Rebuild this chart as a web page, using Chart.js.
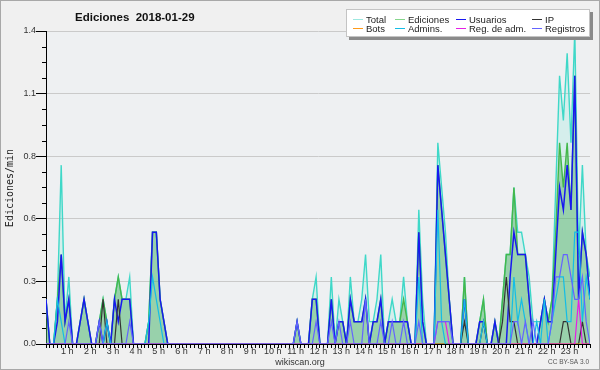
<!DOCTYPE html>
<html>
<head>
<meta charset="utf-8">
<script src="https://cdn.jsdelivr.net/npm/chart.js@4.4.1/dist/chart.umd.min.js"></script>
<style>
  html, body { margin: 0; padding: 0; background: #f0f0f0; overflow: hidden; }
  canvas { display: block; }
</style>
</head>
<body>
<canvas id="chart" width="600" height="370"></canvas>
<script>
// edits per minute, one value per 10-minute bin (00:00 ... 23:50), 4 hours per row
const total = [
  0.2,0,0,0.2,0.8,0.1,0.3,0,0,0.1,0.2,0.1,0,0,0.1,0.2,0.1,0,0.2,0.3,0.2,0.2,0.3,0,
  0,0,0,0.1,0.5,0.5,0.2,0.1,0,0,0,0,0,0,0,0,0,0,0,0,0,0,0,0,
  0,0,0,0,0,0,0,0,0,0,0,0,0,0,0,0,0,0,0.1,0,0,0,0.2,0.3,
  0,0,0,0.3,0,0.2,0.1,0,0.3,0.1,0.1,0.2,0.4,0.1,0.1,0.2,0.4,0,0.1,0.2,0.1,0.1,0.3,0.1,
  0,0,0.6,0.2,0,0,0,0.9,0.7,0.5,0.2,0,0,0,0.3,0,0,0,0.1,0.2,0,0,0.1,0,
  0.2,0.4,0.4,0.7,0.5,0.5,0.4,0.3,0.1,0.1,0.1,0.2,0.1,0.2,0.7,1.2,1.0,1.3,0.9,1.4,0.4,0.8,0.4,0.3
];
const ediciones = [
  0.2,0,0,0.2,0.4,0.1,0.2,0,0,0.1,0.2,0.1,0,0,0.1,0.2,0.1,0,0.2,0.3,0.2,0.2,0.2,0,
  0,0,0,0.1,0.5,0.5,0.2,0.1,0,0,0,0,0,0,0,0,0,0,0,0,0,0,0,0,
  0,0,0,0,0,0,0,0,0,0,0,0,0,0,0,0,0,0,0.1,0,0,0,0.2,0.2,
  0,0,0,0.2,0,0.1,0.1,0,0.2,0.1,0.1,0.1,0.2,0,0.1,0.1,0.2,0,0.1,0.1,0.1,0.1,0.2,0.1,
  0,0,0.5,0.1,0,0,0,0.8,0.6,0.4,0.2,0,0,0,0.3,0,0,0,0.1,0.2,0,0,0.1,0,
  0.2,0.4,0.4,0.7,0.4,0.4,0.4,0.2,0,0,0.1,0.2,0.1,0.2,0.5,0.9,0.7,0.9,0.6,1.2,0.2,0.5,0.4,0.2
];
const usuarios = [
  0.2,0,0,0.1,0.4,0.1,0.2,0,0,0.1,0.2,0.1,0,0,0.1,0,0.1,0,0.2,0.1,0.2,0.2,0.2,0,
  0,0,0,0,0.5,0.5,0.2,0.1,0,0,0,0,0,0,0,0,0,0,0,0,0,0,0,0,
  0,0,0,0,0,0,0,0,0,0,0,0,0,0,0,0,0,0,0.1,0,0,0,0.2,0.2,
  0,0,0,0.2,0,0.1,0.1,0,0.2,0.1,0.1,0.1,0.2,0,0.1,0.1,0.2,0,0.1,0.1,0.1,0.1,0.1,0.1,
  0,0,0.5,0.1,0,0,0,0.8,0.6,0.4,0.2,0,0,0,0.2,0,0,0,0.1,0.1,0,0,0.1,0,
  0,0,0.3,0.5,0.4,0.4,0.4,0.2,0,0,0.1,0.2,0.1,0.1,0.4,0.7,0.6,0.8,0.6,1.2,0.2,0.5,0.4,0.2
];
const ip = [
  0,0,0,0,0,0,0,0,0,0,0,0,0,0,0,0.2,0,0,0,0.2,0,0,0,0,
  0,0,0,0,0,0,0,0,0,0,0,0,0,0,0,0,0,0,0,0,0,0,0,0,
  0,0,0,0,0,0,0,0,0,0,0,0,0,0,0,0,0,0,0,0,0,0,0,0,
  0,0,0,0,0,0,0,0,0,0,0,0,0,0,0,0,0,0,0,0,0,0,0,0,
  0,0,0,0,0,0,0,0,0,0,0,0,0,0,0.1,0,0,0,0,0.1,0,0,0,0,
  0.1,0.3,0.1,0.1,0,0,0,0,0,0,0,0,0,0,0,0,0.1,0.1,0,0,0,0.1,0,0
];
const bots = [
  0,0,0,0,0,0,0,0,0,0,0,0,0,0,0,0,0,0,0,0,0,0,0,0,
  0,0,0,0,0,0,0,0,0,0,0,0,0,0,0,0,0,0,0,0,0,0,0,0,
  0,0,0,0,0,0,0,0,0,0,0,0,0,0,0,0,0,0,0,0,0,0,0,0,
  0,0,0,0,0,0,0,0,0,0,0,0,0,0,0,0,0,0,0,0,0,0,0,0,
  0,0,0,0,0,0,0,0,0,0,0,0,0,0,0,0,0,0,0,0,0,0,0,0,
  0,0,0,0,0,0,0,0,0,0,0,0,0,0,0,0,0,0,0,0,0,0,0,0
];
const admins = [
  0,0,0,0.2,0.1,0,0,0,0,0,0,0,0,0,0,0,0.1,0,0,0,0,0,0,0,
  0,0,0,0.1,0.3,0.2,0.1,0,0,0,0,0,0,0,0,0,0,0,0,0,0,0,0,0,
  0,0,0,0,0,0,0,0,0,0,0,0,0,0,0,0,0,0,0,0,0,0,0,0,
  0,0,0,0,0,0,0,0,0,0,0,0,0,0,0,0,0,0,0,0,0,0,0,0,
  0,0,0.3,0,0,0,0,0.6,0.1,0,0,0,0,0,0.2,0,0,0,0,0.1,0,0,0,0,
  0,0,0,0.3,0.1,0.2,0.1,0,0,0.1,0,0.2,0,0.1,0.2,0.3,0.3,0.1,0.1,0.5,0.5,0.1,0.3,0.2
];
const regAdm = [
  0,0,0,0,0,0,0,0,0,0,0,0,0,0,0,0,0,0,0,0,0,0,0,0,
  0,0,0,0,0,0,0,0,0,0,0,0,0,0,0,0,0,0,0,0,0,0,0,0,
  0,0,0,0,0,0,0,0,0,0,0,0,0,0,0,0,0,0,0,0,0,0,0,0,
  0,0,0,0,0,0,0,0,0,0,0,0,0,0,0,0,0,0,0,0,0,0,0,0,
  0,0,0,0,0,0,0,0.1,0.1,0.1,0,0,0,0,0,0,0,0,0,0,0,0,0,0,
  0,0,0,0,0,0,0,0,0,0,0,0,0,0,0,0,0,0,0,0,0.2,0,0,0
];
const registros = [
  0,0,0,0,0,0,0.1,0,0,0,0,0,0,0,0.1,0,0,0,0,0,0,0,0.1,0,
  0,0,0,0,0,0,0,0,0,0,0,0,0,0,0,0,0,0,0,0,0,0,0,0,
  0,0,0,0,0,0,0,0,0,0,0,0,0,0,0,0,0,0,0.1,0,0,0,0,0.1,
  0,0,0,0.1,0,0.1,0,0,0.1,0,0,0,0.2,0,0,0,0.1,0,0,0.1,0,0,0.1,0,
  0,0,0.1,0,0,0,0,0.1,0.1,0.1,0.1,0,0,0,0,0,0,0,0,0,0,0,0,0,
  0,0,0,0.1,0.1,0,0.1,0,0.1,0,0,0,0,0.1,0.3,0.3,0.4,0.4,0.3,0.2,0.2,0.3,0.1,0
];

const hourLabels = ['1 h','2 h','3 h','4 h','5 h','6 h','7 h','8 h','9 h','10 h','11 h','12 h',
  '13 h','14 h','15 h','16 h','17 h','18 h','19 h','20 h','21 h','22 h','23 h'];
const yTickLabels = ['0.0','0.3','0.6','0.8','1.1','1.4'];

const SANS = '"Liberation Sans", Arial, sans-serif';
Chart.defaults.font.family = SANS;

const pts = arr => arr.map((v, i) => ({ x: i, y: v }));

const decor = {
  id: 'decor',
  beforeDraw(chart) {
    const { ctx, chartArea: a } = chart;
    ctx.save();
    ctx.fillStyle = '#f0f0f0';
    ctx.fillRect(0, 0, 600, 370);
    ctx.fillStyle = '#eef0f2';
    ctx.fillRect(a.left, a.top, a.right - a.left, a.bottom - a.top);
    ctx.restore();
  },
  afterDraw(chart) {
    const { ctx } = chart;
    const ys = chart.scales.y;
    ctx.save();

    // minor ticks on the y axis
    ctx.strokeStyle = '#000';
    ctx.lineWidth = 1;
    ctx.beginPath();
    for (let k = 1; k < 20; k++) {
      if (k % 4 === 0) continue;
      const y = Math.round(ys.getPixelForValue(k * 0.07)) + 0.5;
      ctx.moveTo(42, y);
      ctx.lineTo(46, y);
    }
    ctx.stroke();

    // frame
    ctx.strokeStyle = '#a8a8a8';
    ctx.strokeRect(0.5, 0.5, 599, 369);

    // title
    ctx.fillStyle = '#111';
    ctx.font = 'bold 11.5px ' + SANS;
    ctx.textBaseline = 'alphabetic';
    ctx.textAlign = 'left';
    ctx.fillText('Ediciones  2018-01-29', 75, 21);

    // y axis title
    ctx.save();
    ctx.translate(10, 188);
    ctx.rotate(-Math.PI / 2);
    ctx.font = '10px "DejaVu Sans Mono", monospace';
    ctx.textAlign = 'center';
    ctx.textBaseline = 'middle';
    ctx.fillStyle = '#222';
    ctx.fillText('Ediciones/min', 0, 0);
    ctx.restore();

    // footer
    ctx.fillStyle = '#333';
    ctx.font = '9px ' + SANS;
    ctx.textAlign = 'center';
    ctx.fillText('wikiscan.org', 300, 364.5);
    ctx.fillStyle = '#555';
    ctx.font = '6.5px ' + SANS;
    ctx.textAlign = 'right';
    ctx.fillText('CC BY-SA 3.0', 589, 364);

    // legend box
    ctx.fillStyle = '#8a8a8a';
    ctx.fillRect(349, 12, 244, 28);
    ctx.fillStyle = '#fff';
    ctx.fillRect(346, 9, 244, 28);
    ctx.strokeStyle = '#c4c4c4';
    ctx.strokeRect(346.5, 9.5, 243, 27);

    const colX = [366, 408, 469, 545];
    const rowY = [23, 32];
    ctx.font = '9.5px ' + SANS;
    ctx.textAlign = 'left';
    chart.data.datasets.forEach((ds, i) => {
      const col = i % 4, row = Math.floor(i / 4);
      const x = colX[col], y = rowY[row];
      ctx.strokeStyle = ds.legendColor || ds.borderColor;
      ctx.lineWidth = 1;
      ctx.beginPath();
      ctx.moveTo(x - 13, y - 3.5);
      ctx.lineTo(x - 3, y - 3.5);
      ctx.stroke();
      ctx.fillStyle = '#222';
      ctx.fillText(ds.label, x, y);
    });
    ctx.restore();
  }
};

new Chart(document.getElementById('chart'), {
  type: 'line',
  data: {
    datasets: [
      { label: 'Total', data: pts(total), borderColor: '#3fd8c8', legendColor: '#9ee8e0',
        backgroundColor: 'rgba(64,224,208,0.14)', fill: 'origin', borderWidth: 1.4, order: 8 },
      { label: 'Ediciones', data: pts(ediciones), borderColor: '#44b84c', legendColor: '#86d68c',
        backgroundColor: 'rgba(70,170,80,0.42)', fill: 'origin', borderWidth: 1.4, order: 7 },
      { label: 'Usuarios', data: pts(usuarios), borderColor: '#1818f0', borderWidth: 1.5, order: 6 },
      { label: 'IP', data: pts(ip), borderColor: '#333333', borderWidth: 1.2, order: 5 },
      { label: 'Bots', data: pts(bots), borderColor: '#ff9a1a', borderWidth: 1.2, order: 4 },
      { label: 'Admins.', data: pts(admins), borderColor: '#14bde6', borderWidth: 1.2, order: 3 },
      { label: 'Reg. de adm.', data: pts(regAdm), borderColor: '#e61ee6', borderWidth: 1.2, order: 2 },
      { label: 'Registros', data: pts(registros), borderColor: '#6464ff', borderWidth: 1.2, order: 1 }
    ]
  },
  options: {
    responsive: false,
    animation: false,
    devicePixelRatio: 1,
    events: [],
    layout: { padding: { left: 0, right: 10, top: 31, bottom: 0 } },
    elements: { point: { radius: 0 }, line: { tension: 0 } },
    plugins: { legend: { display: false }, tooltip: { enabled: false }, title: { display: false } },
    scales: {
      x: {
        type: 'linear',
        min: 0,
        max: 143,
        afterFit: s => { s.height = 26; },
        border: { color: '#000', width: 1 },
        grid: { drawOnChartArea: false, tickLength: 4, color: '#000', tickColor: '#000' },
        ticks: {
          stepSize: 1,
          autoSkip: false,
          maxRotation: 0,
          minRotation: 0,
          padding: -2,
          labelOffset: -1.5,
          color: '#333',
          font: { size: 9 },
          callback: v => (v % 6 === 0 && v > 0) ? hourLabels[v / 6 - 1] : ''
        }
      },
      y: {
        min: 0,
        max: 1.4,
        afterFit: s => { s.width = 46; },
        border: { color: '#000', width: 1 },
        grid: { color: '#cacaca', tickColor: '#000', tickLength: 10 },
        ticks: {
          stepSize: 0.28,
          padding: 0,
          color: '#333',
          font: { size: 9 },
          callback: v => yTickLabels[Math.round(v / 0.28)]
        }
      }
    }
  },
  plugins: [decor]
});
</script>
</body>
</html>
